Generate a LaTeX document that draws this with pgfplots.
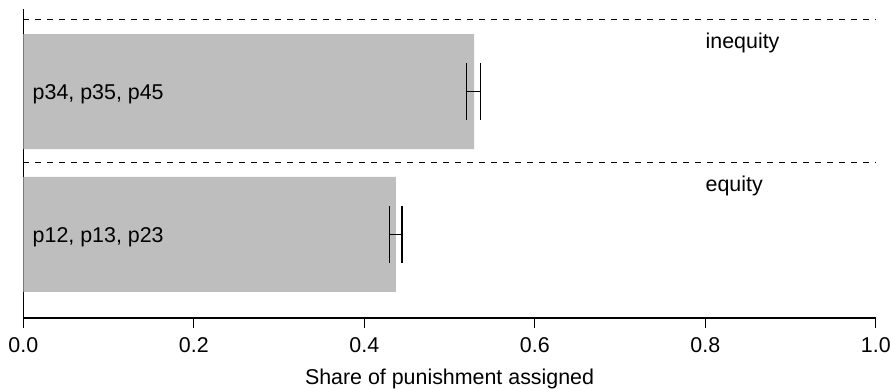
\documentclass[border=0pt]{standalone}
\usepackage{fontspec}
\setmainfont{Liberation Sans}
\usepackage{pgfplots}
\pgfplotsset{compat=1.18}
\definecolor{bargray}{RGB}{190,190,190}
\begin{document}
\fontsize{10.7}{12.8}\selectfont
\begin{tikzpicture}
\begin{axis}[
  at={(0,0)}, anchor=south west,
  scale only axis,
  width=426.25pt, height=154.5pt,
  xmin=0, xmax=1, ymin=0, ymax=309,
  axis x line*=bottom, axis y line*=left,
  axis line style={black, line width=0.6pt},
  ytick=\empty,
  xtick={0,0.2,0.4,0.6,0.8,1.0},
  tick align=outside, major tick length=5pt,
  tick style={black, line width=0.6pt},
  /pgf/number format/assume math mode=true,
  xticklabel style={/pgf/number format/fixed, /pgf/number format/fixed zerofill, /pgf/number format/precision=1, font=\fontsize{10.7}{12.8}\selectfont, yshift=-1pt},
  xlabel={Share of punishment assigned},
  xlabel style={font=\fontsize{10.7}{12.8}\selectfont, yshift=-1pt},
  clip=false,
]
% bars
\addplot[xbar, bar width=115, fill=bargray, draw=none] coordinates {(0.5287,226.4) (0.4371,83.5)};
% dashed separators
\addplot[dashed, black, line width=0.5pt, forget plot] coordinates {(0,298) (1,298)};
\addplot[dashed, black, line width=0.5pt, forget plot] coordinates {(0,155) (1,155)};
% error bars (top)
\addplot[black, line width=0.6pt] coordinates {(0.5201,226.3) (0.5365,226.3)};
\addplot[black, line width=0.6pt] coordinates {(0.5201,198) (0.5201,255)};
\addplot[black, line width=0.6pt] coordinates {(0.5365,198) (0.5365,255)};
% error bars (bottom)
\addplot[black, line width=0.6pt] coordinates {(0.4293,83.3) (0.4442,83.3)};
\addplot[black, line width=0.6pt] coordinates {(0.4293,55) (0.4293,112)};
\addplot[black, line width=0.6pt] coordinates {(0.4442,55) (0.4442,112)};
% text
\node[anchor=west, inner sep=0pt] at (axis cs:0.0106,224) {p34, p35, p45};
\node[anchor=west, inner sep=0pt] at (axis cs:0.0106,81) {p12, p13, p23};
\node[anchor=west, inner sep=0pt] at (axis cs:0.8,275) {inequity};
\node[anchor=west, inner sep=0pt] at (axis cs:0.8,132) {equity};
\end{axis}
\pgfresetboundingbox
\path[use as bounding box] (-11.65pt,-35.5pt) rectangle (433.85pt,159pt);
\end{tikzpicture}
\end{document}
